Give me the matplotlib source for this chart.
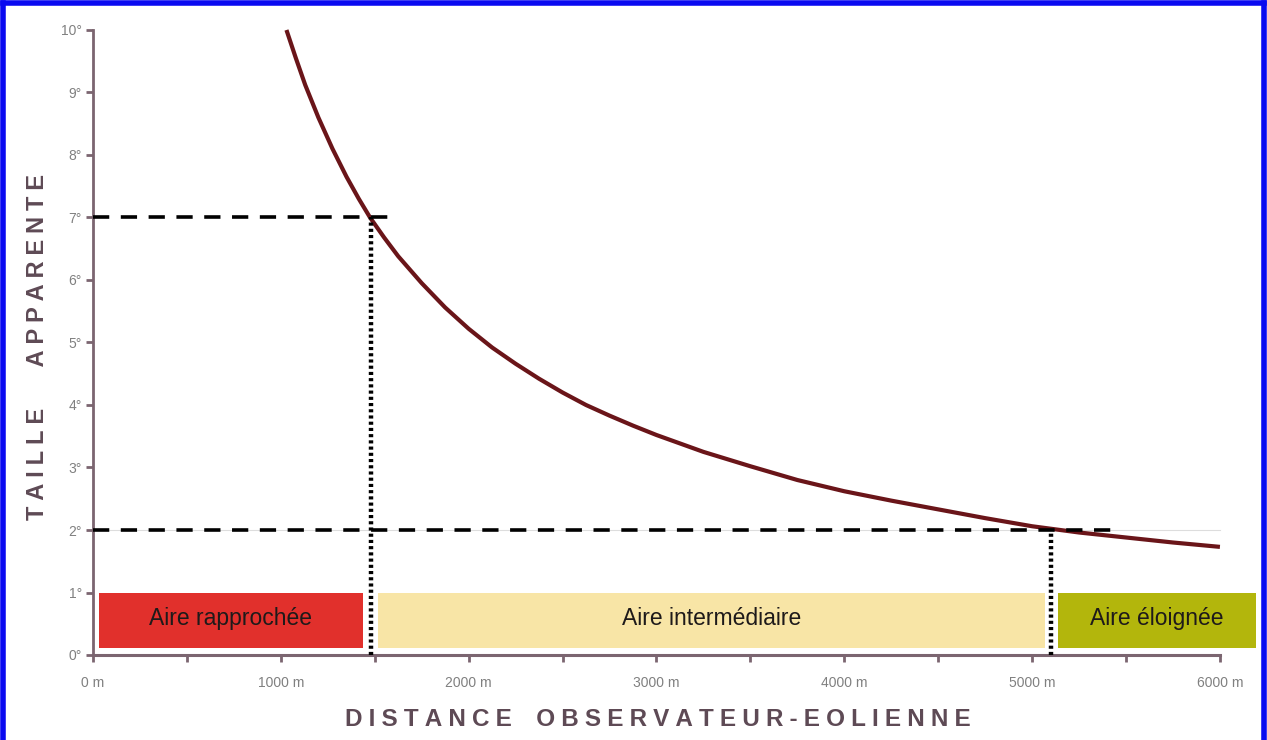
import matplotlib.pyplot as plt
from matplotlib.patches import Rectangle
from matplotlib.lines import Line2D

# apparent size of a wind turbine vs. distance
distance = [1030, 1080, 1130, 1200, 1275, 1350, 1415, 1475, 1550, 1625,
            1750, 1875, 2000, 2125, 2250, 2375, 2500, 2625, 2750, 2875,
            3000, 3250, 3500, 3750, 4000, 4250, 4500, 4750, 5000, 5250,
            5500, 5750, 6000]
angle = [10.0, 9.55, 9.12, 8.6, 8.1, 7.65, 7.3, 7.0, 6.68, 6.38,
         5.95, 5.56, 5.22, 4.92, 4.66, 4.42, 4.2, 4.0, 3.83, 3.67,
         3.52, 3.25, 3.02, 2.8, 2.62, 2.47, 2.33, 2.19, 2.06, 1.96,
         1.88, 1.8, 1.73]

# perception zones
zone_names = ["Aire rapprochée", "Aire intermédiaire", "Aire éloignée"]
zone_start = [30, 1515, 5140]
zone_end = [1435, 5070, 6190]
zone_colors = ["#e1302c", "#f8e5a6", "#b3b60c"]
zone_bottom = 0.12
zone_top = 1.0

# guide lines: (angle, distance limit, dashed line end)
guide_angle = [7, 2]
guide_dist = [1480, 5100]
guide_end = [1600, 5470]

xticks_major = [0, 1000, 2000, 3000, 4000, 5000, 6000]
xtick_labels = ["0 m", "1000 m", "2000 m", "3000 m", "4000 m", "5000 m", "6000 m"]
xticks_minor = [500, 1500, 2500, 3500, 4500, 5500]
yticks = list(range(0, 11))
ytick_labels = [f"{v}°" for v in yticks]

axis_col = "#7b6570"
label_col = "#5e4a55"

fig = plt.figure(figsize=(12.67, 7.40), dpi=100)
ax = fig.add_axes([93 / 1267, 85 / 740, 1169 / 1267, 625 / 740])
ax.set_xlim(0, 6224)
ax.set_ylim(0, 10)

# zones
for name, x0, x1, c in zip(zone_names, zone_start, zone_end, zone_colors):
    ax.add_patch(Rectangle((x0, zone_bottom), x1 - x0, zone_top - zone_bottom,
                           facecolor=c, edgecolor="none", zorder=1))
    ax.text((x0 + x1) / 2, (zone_bottom + zone_top) / 2 + 0.03, name,
            ha="center", va="center", fontsize=16.5, color="#1e1a1a",
            family=["Liberation Sans", "DejaVu Sans"], zorder=2)

# faint line at 2 deg
ax.plot([0, 6000], [2, 2], color="#dddddd", lw=0.8, zorder=1)

# curve
ax.plot(distance, angle, color="#6a1519", lw=3, solid_capstyle="butt",
        solid_joinstyle="round", zorder=3, clip_on=False)

# guides
for a, d, e in zip(guide_angle, guide_dist, guide_end):
    ax.plot([0, e], [a, a], color="black", lw=2.6, dashes=(4.5, 3.2), zorder=4)
    ax.plot([d, d], [0, a], color="black", lw=3.2, dashes=(0.7, 0.7), zorder=4)

# spines / ticks
for s in ["top", "right"]:
    ax.spines[s].set_visible(False)
ax.spines["left"].set_color(axis_col)
ax.spines["bottom"].set_color(axis_col)
ax.spines["left"].set_linewidth(2)
ax.spines["bottom"].set_linewidth(2.2)
ax.spines["bottom"].set_bounds(0, 6000)
ax.spines["left"].set_bounds(0, 10)

ax.set_xticks(xticks_major)
ax.set_xticklabels(xtick_labels)
ax.set_xticks(xticks_minor, minor=True)
ax.set_yticks(yticks)
ax.set_yticklabels(ytick_labels)
ax.tick_params(axis="both", which="both", color=axis_col, width=2, length=5,
               direction="out")
ax.tick_params(axis="x", which="both", pad=10, labelsize=10, labelcolor="#808080")
ax.tick_params(axis="y", pad=3, labelsize=10, labelcolor="#808080")
for t in ax.get_xticklabels() + ax.get_yticklabels():
    t.set_family(["Liberation Sans Narrow", "Liberation Sans", "DejaVu Sans"])

def spaced(s, gap):
    return gap.join(s.replace(" ", "\u2002"))

fig.text(658 / 1267, 1 - 720 / 740, spaced("DISTANCE OBSERVATEUR-EOLIENNE", "\u2005"),
         ha="center", va="center", fontsize=17.5, fontweight="bold",
         color=label_col, family=["Liberation Sans", "DejaVu Sans"])
fig.text(38 / 1267, 1 - 347 / 740, spaced("TAILLE  APPARENTE", "\u2005"),
         ha="center", va="center", rotation=90, fontsize=17, fontweight="bold",
         color=label_col, family=["Liberation Sans", "DejaVu Sans"])

# blue frame (left, top, right)
frame = dict(color="#0a0af0", lw=4, transform=fig.transFigure)
fig.add_artist(Line2D([3 / 1267, 3 / 1267], [0, 1 - 3 / 740], **frame))
fig.add_artist(Line2D([3 / 1267, 1264 / 1267], [1 - 3 / 740, 1 - 3 / 740], **frame))
fig.add_artist(Line2D([1264 / 1267, 1264 / 1267], [0, 1 - 3 / 740], **frame))

plt.savefig("out.png", dpi=100)
